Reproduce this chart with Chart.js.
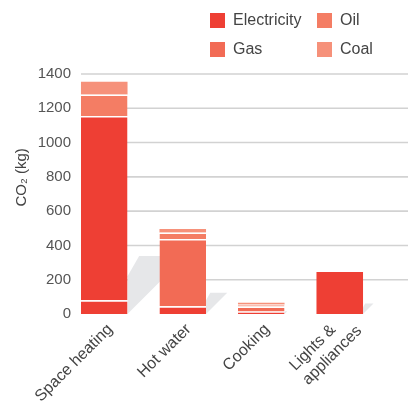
<!DOCTYPE html>
<html>
<head>
<meta charset="utf-8">
<script src="https://cdn.jsdelivr.net/npm/chart.js@4.4.1/dist/chart.umd.min.js"></script>
<style>
    body { margin: 0; background: #fff; }
    #wrap { position: relative; width: 410px; height: 403px; }
    #co2-chart { position: absolute; left: 0; top: 0; }
    #co2-legend {
        position: absolute; left: 210px; top: 12px;
        display: grid; grid-template-columns: 107px auto; row-gap: 13px;
        font: 16px "Liberation Sans", Arial, sans-serif; color: #444;
    }
    .legend-item { display: flex; align-items: center; height: 16px; }
    .legend-box { width: 15px; height: 15px; margin-right: 8px; }
</style>
</head>
<body>
<div id="wrap">
    <canvas id="co2-chart" width="410" height="403"></canvas>
    <div id="co2-legend"></div>
</div>
<script>
// CO2 per household use, kg
// (trailing spaces keep the two label lines flush left once rotated)
const categories = ["Space heating", "Hot water", "Cooking", ["Lights &    ", "appliances"]];
const electricity = [80, 45, 15, 245];
const gas = [1075, 392, 29, 0];
const oil = [125, 39, 12, 0];
const coal = [75, 20, 10, 0];
const yTicks = [0, 200, 400, 600, 800, 1000, 1200, 1400];

const fuels = ["Electricity", "Gas", "Oil", "Coal"];
const colours = { Electricity: "#ee3f34", Gas: "#f26b55", Oil: "#f47d64", Coal: "#f6917a" };
const legendOrder = ["Electricity", "Oil", "Gas", "Coal"];
const series = { Electricity: electricity, Gas: gas, Oil: oil, Coal: coal };

const font = "'Liberation Sans', Arial, sans-serif";

// legend in two columns
const legend = document.getElementById("co2-legend");
for (let i = 0; i < legendOrder.length; i ++) {
    let item = document.createElement("div");
    item.className = "legend-item";
    let box = document.createElement("span");
    box.className = "legend-box";
    box.style.background = colours[legendOrder[i]];
    item.appendChild(box);
    let label = document.createElement("span");
    label.textContent = legendOrder[i];
    item.appendChild(label);
    legend.appendChild(item);
}

// grid lines start at the first bar, grey floor shadow behind each stack
const barShadows = {
    id: "barShadows",
    afterLayout(chart) {
        // let the y labels run a few px into the plot area
        chart.scales.y.right = chart.chartArea.left + 7;
        // two-line label: keep its last line level with the others
        const items = chart.scales.x.getLabelItems();
        const t = items[3].options.translation;
        items[3].options.translation = [t[0], t[1] - 12];
    },
    beforeDatasetsDraw(chart) {
        const ctx = chart.ctx;
        const y = chart.scales.y;
        const metas = chart.getSortedVisibleDatasetMetas();
        const first = metas[0].data[0];
        const gridLeft = first.x - first.width / 2;
        const base = y.getPixelForValue(0);

        ctx.save();
        ctx.strokeStyle = "#d2d2d2";
        ctx.lineWidth = 1.6;
        yTicks.forEach(v => {
            if (v === 0) return;
            const py = y.getPixelForValue(v);
            ctx.beginPath();
            ctx.moveTo(gridLeft, py);
            ctx.lineTo(chart.width - 2, py);
            ctx.stroke();
        });

        ctx.fillStyle = "#e6e7e9";
        for (let i = 0; i < categories.length; i ++) {
            let top = base;
            let bar = metas[0].data[i];
            metas.forEach(m => {
                const el = m.data[i];
                if (el && el.y < top) { top = el.y; bar = el; }
            });
            const right = bar.x + bar.width / 2;
            const h = (base - top) * 0.25;
            ctx.beginPath();
            ctx.moveTo(right, base);
            ctx.lineTo(right + h, base - h);
            ctx.lineTo(right + 0.2 * h, base - h);
            ctx.lineTo(right, base - 0.65 * h);
            ctx.closePath();
            ctx.fill();
        }
        ctx.restore();
    }
};

// white gap above every segment except the top of each stack
function segmentBorder(ctx) {
    const i = ctx.dataIndex;
    if (i === undefined) return 0;
    const above = fuels.slice(ctx.datasetIndex + 1).some(f => series[f][i] > 0);
    return above ? { top: 1.5, right: 0, bottom: 0, left: 0 } : 0;
}

const datasets = fuels.map(name => ({
    label: name,
    data: series[name],
    // the big space heating block is drawn in the electricity red
    backgroundColor: name === "Gas"
        ? categories.map((c, i) => i === 0 ? colours.Electricity : colours.Gas)
        : colours[name],
    borderColor: "#fff",
    borderWidth: segmentBorder,
    borderSkipped: "start",
    barPercentage: 0.593,
    categoryPercentage: 1
}));

new Chart(document.getElementById("co2-chart"), {
    type: "bar",
    data: { labels: categories, datasets: datasets },
    options: {
        responsive: false,
        animation: false,
        layout: { padding: { top: 74, right: 31, left: 0, bottom: 0 } },
        plugins: {
            legend: { display: false },
            tooltip: { enabled: false }
        },
        scales: {
            x: {
                stacked: true,
                grid: { display: false, drawTicks: false },
                border: { display: false },
                afterFit: s => { s.height = 89; },
                ticks: {
                    autoSkip: false,
                    minRotation: 45,
                    maxRotation: 45,
                    padding: 6,
                    labelOffset: 6,
                    color: "#444",
                    font: { family: font, size: 16 }
                }
            },
            y: {
                stacked: true,
                min: 0,
                max: 1400,
                grid: { display: false, drawTicks: false },
                border: { display: false },
                afterFit: s => { s.width = 65; },
                afterBuildTicks: s => { s.ticks = yTicks.map(v => ({ value: v })); },
                ticks: {
                    padding: 1,
                    color: "#555",
                    font: { family: font, size: 15 },
                    callback: v => String(v)
                },
                title: {
                    display: true,
                    text: "        CO\u2082 (kg)",
                    color: "#444",
                    padding: { top: 13, bottom: 0 },
                    font: { family: font, size: 15 }
                }
            }
        }
    },
    plugins: [barShadows]
});
</script>
</body>
</html>
